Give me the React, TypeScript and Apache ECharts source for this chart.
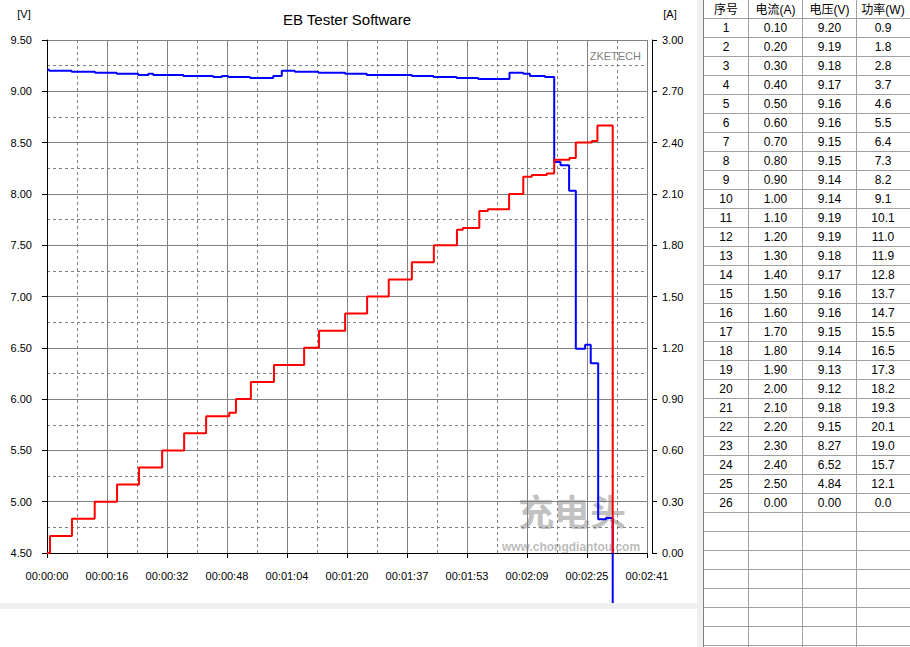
import React, { useEffect, useRef } from "react";
import * as echarts from "echarts";

// ---------- data ----------
const chartTitle = "EB Tester Software";
const leftUnit = "[V]";
const rightUnit = "[A]";
const brand = "ZKETECH";
const watermarkLogo = "充电头";
const watermarkUrl = "www.chongdiantou.com";

const xTickLabels = [
  "00:00:00", "00:00:16", "00:00:32", "00:00:48", "00:01:04", "00:01:20",
  "00:01:37", "00:01:53", "00:02:09", "00:02:25", "00:02:41",
];
const X_MAX = 161;
const X_INTERVAL = 16.1;

// time (s) at which each level starts, and the level
const voltageTimes = [
  0, 0.6, 6.6, 12.9, 18.7, 24.5, 27.2, 28.5, 36.6, 44.6,
  46.9, 48.6, 54.5, 60.7, 63.0, 66.5, 72.8, 80.0, 85.8, 97.9,
  103.7, 109.9, 115.7, 124.1, 127.8, 129.6, 133.6, 136.1, 137.8, 140.1,
  141.9, 144.4, 145.9, 147.9, 150.0, 151.8,
];
const voltageValues = [
  9.21, 9.20, 9.19, 9.18, 9.17, 9.16, 9.17, 9.16, 9.15, 9.14,
  9.15, 9.14, 9.13, 9.15, 9.20, 9.19, 9.18, 9.17, 9.16, 9.15,
  9.14, 9.13, 9.12, 9.18, 9.17, 9.15, 9.14, 8.31, 8.28, 8.03,
  6.49, 6.53, 6.35, 4.83, 4.84, 0,
];

const currentTimes = [
  0, 0.8, 6.7, 12.8, 18.8, 24.7, 30.9, 36.8, 42.7, 48.9,
  50.7, 54.7, 60.9, 69.0, 73.0, 80.0, 85.9, 91.7, 97.9, 103.8,
  110.0, 111.6, 116.0, 118.3, 124.0, 127.8, 130.1, 134.1, 136.1, 140.2,
  141.9, 146.2, 147.7, 151.8,
];
const currentValues = [
  0, 0.1, 0.2, 0.3, 0.4, 0.5, 0.6, 0.7, 0.8, 0.82,
  0.9, 1.0, 1.1, 1.2, 1.3, 1.4, 1.5, 1.6, 1.7, 1.8,
  1.89, 1.9, 2.0, 2.01, 2.1, 2.2, 2.21, 2.22, 2.3, 2.31,
  2.4, 2.41, 2.5, 0,
];

const tableHeaders = ["序号", "电流(A)", "电压(V)", "功率(W)"];
const tableCurrent = [
  0.10, 0.20, 0.30, 0.40, 0.50, 0.60, 0.70, 0.80, 0.90, 1.00,
  1.10, 1.20, 1.30, 1.40, 1.50, 1.60, 1.70, 1.80, 1.90, 2.00,
  2.10, 2.20, 2.30, 2.40, 2.50, 0.00,
];
const tableVoltage = [
  9.20, 9.19, 9.18, 9.17, 9.16, 9.16, 9.15, 9.15, 9.14, 9.14,
  9.19, 9.19, 9.18, 9.17, 9.16, 9.16, 9.15, 9.14, 9.13, 9.12,
  9.18, 9.15, 8.27, 6.52, 4.84, 0.00,
];
const tablePower = [
  0.9, 1.8, 2.8, 3.7, 4.6, 5.5, 6.4, 7.3, 8.2, 9.1,
  10.1, 11.0, 11.9, 12.8, 13.7, 14.7, 15.5, 16.5, 17.3, 18.2,
  19.3, 20.1, 19.0, 15.7, 12.1, 0.0,
];

// ---------- layout ----------
const FONT = "'Liberation Sans', Arial, 'Noto Sans CJK SC', sans-serif";
const CJK_FONT = "'Liberation Sans', 'Noto Sans CJK SC', sans-serif";
const GRID_LEFT = 47;
const GRID_TOP = 40;
const GRID_W = 600;
const GRID_H = 513;

const COL_LINES = [703.5, 748.5, 802.5, 856.5];
const COL_CENTERS = [726, 775.5, 829.5, 883];
const ROW_TOP = 18.5;
const ROW_H = 19;

const centered = { textAlign: "center", textVerticalAlign: "middle", align: "center", verticalAlign: "middle" };

function buildTable(): any[] {
  const els: any[] = [];
  els.push({ type: "rect", z: 100, shape: { x: 704, y: 0, width: 206, height: 647 }, style: { fill: "#fff" } });
  els.push({ type: "rect", z: 100, shape: { x: 697, y: 0, width: 6, height: 647 }, style: { fill: "#f0f0f0" } });
  for (let k = 0; ROW_TOP + k * ROW_H < 647; k++) {
    const y = ROW_TOP + k * ROW_H;
    els.push({ type: "line", z: 101, shape: { x1: 704, y1: y, x2: 910, y2: y }, style: { stroke: "#a0a0a0", lineWidth: 1 } });
  }
  COL_LINES.forEach((x, i) => {
    els.push({ type: "line", z: 101, shape: { x1: x, y1: 0, x2: x, y2: 647 }, style: { stroke: i === 0 ? "#808080" : "#a0a0a0", lineWidth: 1 } });
  });
  const txt = (s: string, x: number, y: number) => ({
    type: "text", z: 102, x, y,
    style: { text: s, fill: "#000", font: `12px ${CJK_FONT}`, ...centered },
  });
  tableHeaders.forEach((h, i) => els.push(txt(h, COL_CENTERS[i], 10)));
  tableCurrent.forEach((c, r) => {
    const y = ROW_TOP + r * ROW_H + 9.5;
    els.push(txt(String(r + 1), COL_CENTERS[0], y));
    els.push(txt(c.toFixed(2), COL_CENTERS[1], y));
    els.push(txt(tableVoltage[r].toFixed(2), COL_CENTERS[2], y));
    els.push(txt(tablePower[r].toFixed(1), COL_CENTERS[3], y));
  });
  return els;
}

function buildOption(): any {
  const graphic: any[] = [
    {
      type: "text", z: 0, x: 572, y: 510,
      style: { text: watermarkLogo, fill: "rgba(140,140,140,0.55)", font: `bold 36px 'Noto Sans CJK SC', sans-serif`, ...centered },
    },
    {
      type: "text", z: 0, x: 571, y: 547,
      style: { text: watermarkUrl, fill: "rgba(140,140,140,0.6)", font: `bold 12px ${FONT}`, ...centered },
    },
    {
      type: "text", x: 347, y: 19,
      style: { text: chartTitle, fill: "#000", font: `15px ${FONT}`, ...centered },
    },
    {
      type: "text", x: 24, y: 14,
      style: { text: leftUnit, fill: "#000", font: `11px ${FONT}`, ...centered },
    },
    {
      type: "text", x: 670, y: 14,
      style: { text: rightUnit, fill: "#000", font: `11px ${FONT}`, ...centered },
    },
    {
      type: "text", x: 641, y: 56,
      style: { text: brand, fill: "#808080", font: `11px ${FONT}`, textAlign: "right", textVerticalAlign: "middle", align: "right", verticalAlign: "middle" },
    },
    { type: "rect", z: 100, shape: { x: 0, y: 603, width: 697, height: 6 }, style: { fill: "#f0f0f0" } },
    { type: "rect", z: 100, shape: { x: 0, y: 609, width: 697, height: 38 }, style: { fill: "#fff" } },
    ...buildTable(),
  ];

  const axisCommon = {
    axisLine: { show: true, lineStyle: { color: "#000", width: 1 } },
    axisTick: { show: true, length: 5, inside: false, lineStyle: { color: "#000", width: 1 } },
  };

  return {
    animation: false,
    backgroundColor: "#fff",
    textStyle: { fontFamily: FONT },
    grid: { left: GRID_LEFT, top: GRID_TOP, width: GRID_W, height: GRID_H, containLabel: false },
    xAxis: {
      type: "value",
      min: 0,
      max: X_MAX,
      interval: X_INTERVAL,
      position: "bottom",
      offset: 5,
      ...axisCommon,
      axisLabel: {
        color: "#000",
        fontSize: 11,
        fontFamily: FONT,
        margin: 12,
        showMinLabel: true,
        showMaxLabel: true,
        formatter: (v: number) => xTickLabels[Math.round(v / X_INTERVAL)] ?? "",
      },
      splitLine: { show: true, lineStyle: { color: "#808080", width: 1 } },
      minorTick: { show: false, splitNumber: 2 },
      minorSplitLine: { show: true, lineStyle: { color: "#808080", width: 1, type: [3, 3] } },
    },
    yAxis: [
      {
        type: "value",
        min: 4.5,
        max: 9.5,
        interval: 0.5,
        position: "left",
        offset: 5,
        ...axisCommon,
        axisLabel: { color: "#000", fontSize: 11, fontFamily: FONT, margin: 10, formatter: (v: number) => v.toFixed(2) },
        splitLine: { show: true, lineStyle: { color: "#808080", width: 1 } },
        minorTick: { show: false, splitNumber: 2 },
        minorSplitLine: { show: true, lineStyle: { color: "#808080", width: 1, type: [3, 3] } },
      },
      {
        type: "value",
        min: 0,
        max: 3,
        interval: 0.3,
        position: "right",
        offset: 5,
        ...axisCommon,
        axisLabel: { color: "#000", fontSize: 11, fontFamily: FONT, margin: 10, formatter: (v: number) => v.toFixed(2) },
        splitLine: { show: false },
      },
    ],
    series: [
      {
        name: "电压",
        type: "line",
        yAxisIndex: 0,
        step: "end",
        showSymbol: false,
        clip: false,
        z: 3,
        lineStyle: { color: "#0000ff", width: 2 },
        data: voltageTimes.map((t, i) => [t, voltageValues[i]]),
      },
      {
        name: "电流",
        type: "line",
        yAxisIndex: 1,
        step: "end",
        showSymbol: false,
        z: 4,
        lineStyle: { color: "#ff0000", width: 2 },
        data: currentTimes.map((t, i) => [t, currentValues[i]]),
      },
    ],
    graphic,
  };
}

export default function App() {
  const ref = useRef<HTMLDivElement>(null);
  useEffect(() => {
    if (!ref.current) return;
    const chart = echarts.init(ref.current, null, { renderer: "svg" });
    chart.setOption(buildOption());
    return () => chart.dispose();
  }, []);
  return (
    <div
      ref={ref}
      style={{ position: "fixed", left: 0, top: 0, width: 910, height: 647, background: "#fff" }}
    />
  );
}
